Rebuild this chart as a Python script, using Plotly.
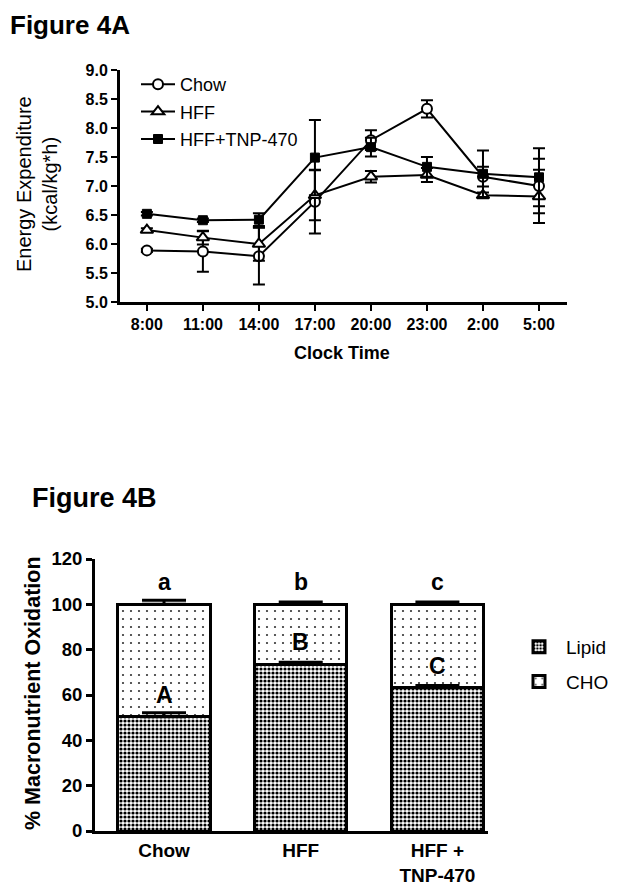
import plotly.graph_objects as go

# ---------------- Data: Figure 4A ----------------
clock_times = ["8:00", "11:00", "14:00", "17:00", "20:00", "23:00", "2:00", "5:00"]
chow_ee = [5.89, 5.87, 5.79, 6.73, 7.79, 8.33, 7.16, 7.00]
chow_err = [0.03, 0.35, 0.49, 0.55, 0.17, 0.15, 0.17, 0.47]
hff_ee = [6.24, 6.11, 6.00, 6.84, 7.16, 7.19, 6.84, 6.82]
hff_err = [0.03, 0.12, 0.29, 0.43, 0.10, 0.12, 0.05, 0.46]
tnp_ee = [6.52, 6.41, 6.42, 7.49, 7.67, 7.33, 7.21, 7.15]
tnp_err = [0.03, 0.03, 0.11, 0.65, 0.16, 0.17, 0.40, 0.50]

# ---------------- Data: Figure 4B ----------------
groups = ["Chow", "HFF", "HFF +<br>TNP-470"]
lipid_pct = [50.4, 73.5, 63.2]
lipid_err = [1.8, 1.0, 1.0]
cho_pct = [49.6, 26.5, 36.8]
cho_err = [1.8, 1.0, 1.0]
sig_lower = ["a", "b", "c"]
sig_upper = ["A", "B", "C"]
sig_upper_y = [60, 83.5, 73]
sig_lower_y = [110, 110, 110]

FONT = "Liberation Sans, Arial, sans-serif"
PAGE_W, PAGE_H = 622, 893
OFF = 8  # default body margin of the html page
W, H = PAGE_W - 2 * OFF, PAGE_H - 2 * OFF

def px_x(p):
    return (p - OFF) / W

def px_y(p):
    return 1 - (p - OFF) / H

fig = go.Figure()

# ---- Top line chart ----
series = [
    ("Chow", chow_ee, chow_err, dict(symbol="circle", size=10, color="white", line=dict(color="black", width=2))),
    ("HFF", hff_ee, hff_err, dict(symbol="triangle-up", size=11, color="white", line=dict(color="black", width=2))),
    ("HFF+TNP-470", tnp_ee, tnp_err, dict(symbol="square", size=9, color="black", line=dict(color="black", width=1))),
]
for i, (name, ys, es, mk) in enumerate(series):
    fig.add_trace(go.Scatter(
        x=clock_times, y=ys, name=name, mode="lines+markers",
        line=dict(color="black", width=2), marker=mk,
        error_y=dict(type="data", array=es, visible=True, color="black", thickness=2, width=6),
        xaxis="x", yaxis="y", legend="legend", legendgroup=name,
    ))

# ---- Bottom stacked bar chart ----
fig.add_trace(go.Bar(
    x=[0, 1, 2], y=lipid_pct, name="Lipid", width=0.674, legendgroup="Lipid",
    marker=dict(color="white", line=dict(color="black", width=3),
                pattern=dict(shape=".", fgcolor="black", bgcolor="white", size=4, solidity=0.5, fillmode="replace")),
    xaxis="x2", yaxis="y2", legend="legend2",
))
fig.add_trace(go.Bar(
    x=[0, 1, 2], y=cho_pct, name="CHO", width=0.674, legendgroup="CHO",
    marker=dict(color="white", line=dict(color="black", width=3),
                pattern=dict(shape=".", fgcolor="#333333", bgcolor="white", size=8, solidity=0.06, fillmode="replace")),
    xaxis="x2", yaxis="y2", legend="legend2",
))
# error bars (upper only) drawn above the bars
totals = [l + c for l, c in zip(lipid_pct, cho_pct)]
for ys, es in ((lipid_pct, lipid_err), (totals, cho_err)):
    fig.add_trace(go.Scatter(
        x=[0, 1, 2], y=ys, mode="markers", marker=dict(opacity=0, size=1),
        error_y=dict(type="data", array=es, arrayminus=[0, 0, 0], symmetric=False,
                     color="black", thickness=3, width=22),
        xaxis="x2", yaxis="y2", showlegend=False, hoverinfo="skip",
    ))

def ann(text, x, y, size, angle=0, xa="center", ya="middle", xref="paper", yref="paper"):
    return dict(text=text, x=x, y=y, xref=xref, yref=yref, xanchor=xa, yanchor=ya,
                textangle=angle, showarrow=False, font=dict(size=size, family=FONT, color="#000000"))

annotations = [
    ann("<b>Figure 4A</b>", px_x(8), px_y(8), 26, xa="left", ya="top"),
    ann("<b>Figure 4B</b>", px_x(30), px_y(481), 27, xa="left", ya="top"),
    ann("Energy Expenditure<br>(kcal/kg*h)", px_x(37), px_y(184), 20, angle=-90),
    ann("<b>Clock Time</b>", px_x(342), px_y(353), 18),
    ann("<b>% Macronutrient Oxidation</b>", px_x(33), px_y(693), 21.5, angle=-90),
]
for i in range(3):
    annotations.append(ann("<b>%s</b>" % sig_lower[i], i, sig_lower_y[i], 23, xref="x2", yref="y2"))
    annotations.append(ann("<b>%s</b>" % sig_upper[i], i, sig_upper_y[i], 23, xref="x2", yref="y2"))

fig.update_layout(
    width=W, height=H,
    margin=dict(l=0, r=0, t=0, b=0, pad=0, autoexpand=False),
    paper_bgcolor="white", plot_bgcolor="white",
    font=dict(family=FONT, color="black"),
    barmode="stack",
    showlegend=True,
    annotations=annotations,
    xaxis=dict(domain=[px_x(120), px_x(567)], anchor="y", type="category", automargin=False,
               range=[-0.48, 7.5], showline=True, linecolor="black", linewidth=3,
               ticks="outside", ticklen=6, tickwidth=2, tickcolor="black",
               tickfont=dict(size=16, family=FONT, color="black"), showgrid=False, zeroline=False,
               tickprefix="<b>", ticksuffix="</b>"),
    yaxis=dict(domain=[px_y(302), px_y(70)], anchor="x", range=[5, 9], automargin=False,
               tickvals=[5, 5.5, 6, 6.5, 7, 7.5, 8, 8.5, 9],
               ticktext=["<b>%.1f</b>" % v for v in [5, 5.5, 6, 6.5, 7, 7.5, 8, 8.5, 9]],
               showline=True, linecolor="black", linewidth=3,
               ticks="outside", ticklen=6, tickwidth=2, tickcolor="black",
               tickfont=dict(size=16, family=FONT, color="black"), showgrid=False, zeroline=False),
    xaxis2=dict(domain=[px_x(95), px_x(488)], anchor="y2", range=[-0.505, 2.37], automargin=False,
                tickvals=[0, 1, 2], ticktext=["<b>%s</b>" % g for g in groups],
                showline=True, linecolor="black", linewidth=3, ticks="",
                tickfont=dict(size=19, family=FONT, color="black"), showgrid=False, zeroline=False),
    yaxis2=dict(domain=[px_y(831), px_y(559)], anchor="x2", range=[0, 120], automargin=False,
                tickvals=[0, 20, 40, 60, 80, 100, 120],
                ticktext=["<b>%d</b>" % v for v in [0, 20, 40, 60, 80, 100, 120]],
                showline=True, linecolor="black", linewidth=3,
                ticks="outside", ticklen=6, tickwidth=3, tickcolor="black",
                tickfont=dict(size=18.5, family=FONT, color="black"), showgrid=False, zeroline=False),
    legend=dict(x=px_x(136), y=px_y(66), xanchor="left", yanchor="top", bgcolor="rgba(0,0,0,0)",
                font=dict(size=18, family=FONT, color="black"), traceorder="grouped", tracegroupgap=1,
                itemwidth=34),
    legend2=dict(x=px_x(512), y=px_y(628), xanchor="left", yanchor="top", bgcolor="rgba(0,0,0,0)",
                 font=dict(size=19, family=FONT, color="black"), traceorder="grouped", tracegroupgap=7,
                 itemwidth=44),
)

fig.write_html("out.html")
